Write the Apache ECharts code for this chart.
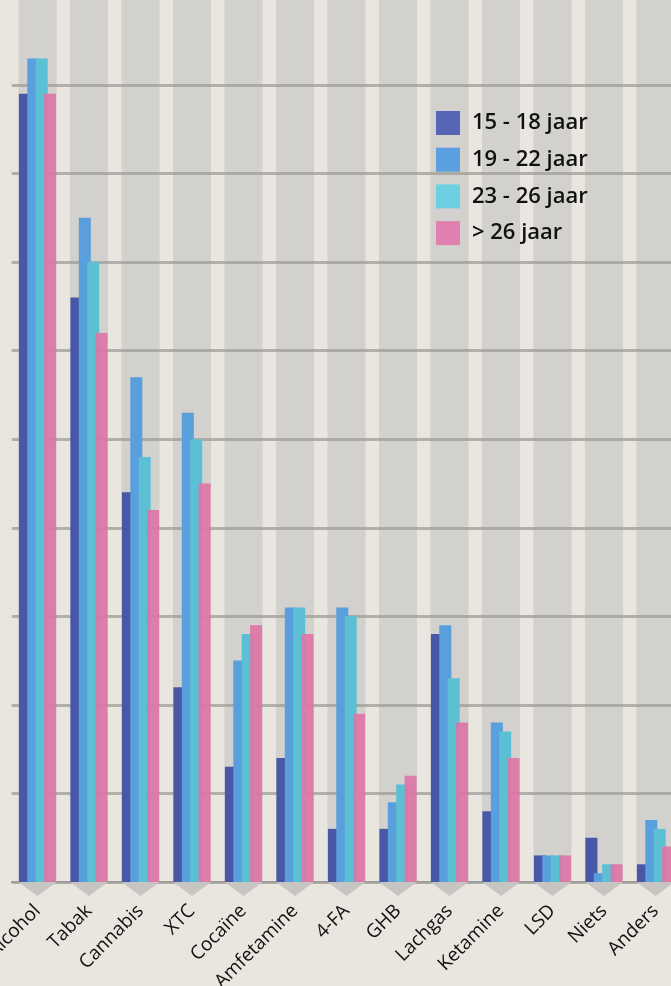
<!DOCTYPE html>
<html><head><meta charset="utf-8">
<script src="https://cdn.jsdelivr.net/npm/echarts@6/dist/echarts.min.js"></script>
<style>html,body{margin:0;padding:0;background:#e9e6df;}#c{width:671px;height:986px;}</style>
</head><body><div id="c"></div>
<script>
const categories = ['Alcohol','Tabak','Cannabis','XTC','Cocaïne','Amfetamine','4-FA','GHB','Lachgas','Ketamine','LSD','Niets','Anders'];
const seriesNames = ['15 - 18 jaar','19 - 22 jaar','23 - 26 jaar','> 26 jaar'];
const v15_18 = [89, 66, 44, 22, 13, 14, 6, 6, 28, 8, 3, 5, 2];
const v19_22 = [93, 75, 57, 53, 25, 31, 31, 9, 29, 18, 3, 1, 7];
const v23_26 = [93, 70, 48, 50, 28, 31, 30, 11, 23, 17, 3, 2, 6];
const v26plus = [89, 62, 42, 45, 29, 28, 19, 12, 18, 14, 3, 2, 4];
const yTicks = [0,10,20,30,40,50,60,70,80,90,100];

const barColors = ['#4858a6','#5a9fdd','#5cc0d5','#de74a6'];
const legendColors = ['#5566b5','#5aa0e0','#6dcfe0','#e080b0'];
const values = [v15_18, v19_22, v23_26, v26plus];

const chart = echarts.init(document.getElementById('c'), null, {renderer:'canvas'});
const yMax = yTicks[yTicks.length-1];

const barSeries = values.map((vals,i)=>({
  name: seriesNames[i], type:'bar', data: vals, barWidth: 12, barGap: '-30%',
  xAxisIndex: 0, z: 3,
  itemStyle:{color: barColors[i], opacity: i===3 ? 0.9 : 1},
  emphasis:{disabled:true}
}));

chart.setOption({
  animation:false,
  backgroundColor:'#e9e6df',
  grid:{left:11.75, width:669.5, top:-3.6, height:885.6, containLabel:false, outerBoundsMode:'none'},
  legend:{
    orient:'vertical', left:436, top:111, itemWidth:24, itemHeight:24, itemGap:12.7, padding:0,
    icon:'rect',
    textStyle:{fontFamily:'Open Sans', fontSize:22, fontWeight:600, color:'#111', padding:[0,0,0,7]},
    data: seriesNames.map((n,i)=>({name:n, itemStyle:{color:legendColors[i], opacity:1}}))
  },
  xAxis:[{
    type:'category', data:categories, boundaryGap:true,
    axisLine:{show:true, lineStyle:{color:'#a3a29d', width:2}},
    axisTick:{show:false},
    axisLabel:{rotate:45, margin:26, fontFamily:'Open Sans', fontSize:19, color:'#111', interval:0, hideOverlap:false}
  },{
    type:'category', data:categories, show:false, boundaryGap:true
  }],
  yAxis:{
    type:'value', min:0, max:yMax, interval:10, z:1,
    axisLabel:{show:false}, axisLine:{show:false}, axisTick:{show:false},
    splitLine:{show:true, lineStyle:{color:'#9d9c97', width:3, opacity:0.75}}
  },
  series:[
    {type:'bar', xAxisIndex:1, data:categories.map(()=>yMax), barWidth:'74%', silent:true, z:0,
     itemStyle:{color:'#d2d1cd'}, legendHoverLink:false, emphasis:{disabled:true}, tooltip:{show:false}},
    {type:'custom', xAxisIndex:0, silent:true, z:1, clip:false,
     data: categories.map((c,i)=>[i,0]),
     renderItem:(params, api)=>{
       const p = api.coord([api.value(0), 0]);
       const w = api.size([1,0])[0]*0.74;
       return {type:'polygon', shape:{points:[[p[0]-w/2,p[1]],[p[0]+w/2,p[1]],[p[0],p[1]+14]]},
               style:{fill:'#c6c5c1'}};
     }},
    ...barSeries
  ]
});
</script></body></html>
